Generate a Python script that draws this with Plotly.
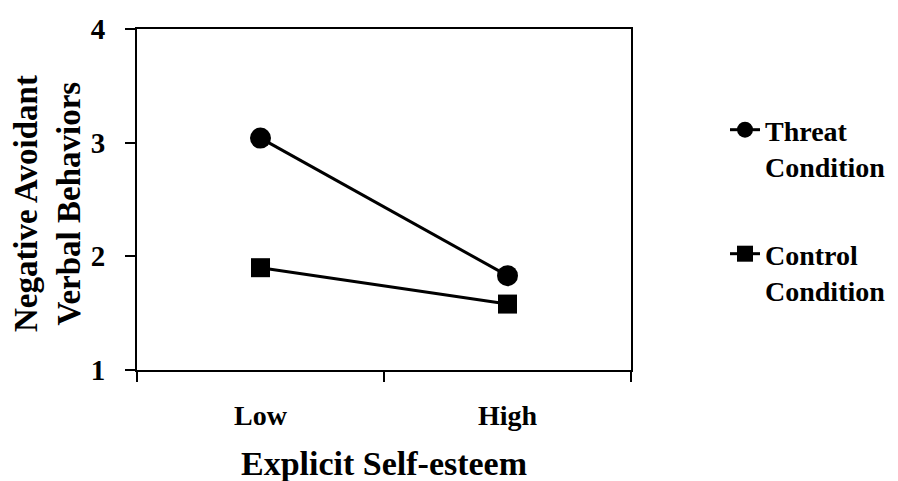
import plotly.graph_objects as go

categories = ["Low", "High"]
threat = [3.04, 1.83]
control = [1.90, 1.58]
y_ticks = [1, 2, 3, 4]
series_names = ["<b>Threat<br>Condition</b>", "<b>Control<br>Condition</b>"]

FONT = "Liberation Serif, Times New Roman, serif"
L, R, T, B = 129, 275, 21, 119
W, H = 898, 481
pw = W - L - R
ph = H - T - B
OFF = 8  # page offset of the figure
top_px = T + OFF

fig = go.Figure()
fig.add_trace(go.Scatter(
    x=categories, y=threat, name=series_names[0], mode="lines+markers",
    line=dict(color="black", width=3),
    marker=dict(symbol="circle", size=21, color="black"),
    legend="legend",
))
fig.add_trace(go.Scatter(
    x=categories, y=control, name=series_names[1], mode="lines+markers",
    line=dict(color="black", width=3),
    marker=dict(symbol="square", size=19, color="black"),
    legend="legend2",
))

legend_common = dict(
    font=dict(family=FONT, size=28, color="black"),
    bgcolor="rgba(0,0,0,0)", borderwidth=0,
    xanchor="left", yanchor="top", valign="top",
    itemwidth=30,
)
lx = (725 - (L + OFF)) / pw
fig.update_layout(
    width=W, height=H,
    margin=dict(l=L, r=R, t=T, b=B, autoexpand=False),
    paper_bgcolor="white", plot_bgcolor="white",
    font=dict(family=FONT, color="black"),
    showlegend=True,
    legend=dict(x=lx, y=1 - (105 - top_px) / ph, **legend_common),
    legend2=dict(x=lx, y=1 - (229 - top_px) / ph, **legend_common),
    xaxis=dict(
        type="category", range=[-0.5, 1.5], tickson="boundaries",
        automargin=False,
        showline=True, linecolor="black", linewidth=2, mirror=True,
        ticks="outside", ticklen=10, tickwidth=2, tickcolor="black",
        showgrid=False, zeroline=False,
        tickfont=dict(family=FONT, size=28, color="black", weight="bold"),
        ticklabelstandoff=19,
        title=dict(text="<b>Explicit Self-esteem</b>",
                   font=dict(family=FONT, size=34, color="black"),
                   standoff=22),
    ),
    yaxis=dict(
        range=[1, 4], tickvals=y_ticks, ticktext=[str(v) for v in y_ticks],
        automargin=False,
        showline=True, linecolor="black", linewidth=2, mirror=True,
        ticks="outside", ticklen=10, tickwidth=2, tickcolor="black",
        showgrid=False, zeroline=False,
        tickfont=dict(family=FONT, size=29, color="black", weight="bold"),
        ticklabelstandoff=14,
        title=dict(text="<b>Negative Avoidant\u00a0<br>Verbal Behaviors\u00a0</b>",
                   font=dict(family=FONT, size=33, color="black"),
                   standoff=9),
    ),
)
fig.write_html("out.html")
